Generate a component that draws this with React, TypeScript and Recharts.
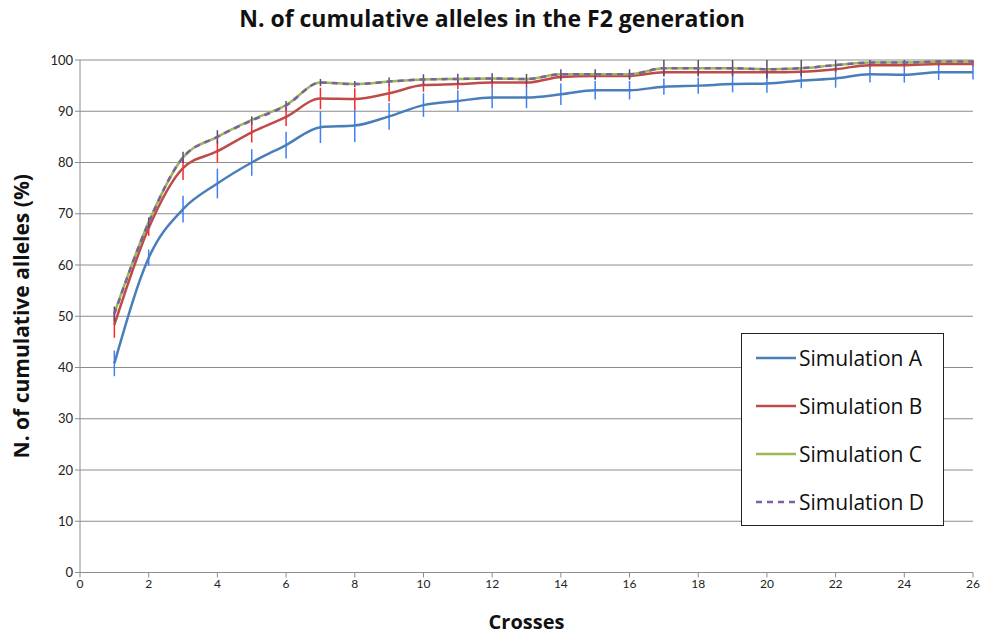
import { CartesianGrid, ErrorBar, Line, LineChart, XAxis, YAxis } from 'recharts';

const crosses = [1, 2, 3, 4, 5, 6, 7, 8, 9, 10, 11, 12, 13, 14, 15, 16, 17, 18, 19, 20, 21, 22, 23, 24, 25, 26];
const simA = [40.8, 61.4, 70.9, 75.9, 80.0, 83.4, 86.9, 87.2, 89.0, 91.2, 92.0, 92.7, 92.7, 93.3, 94.1, 94.1, 94.8, 95.0, 95.3, 95.4, 96.0, 96.4, 97.2, 97.1, 97.6, 97.6];
const simB = [48.3, 67.2, 78.9, 82.2, 85.9, 88.9, 92.5, 92.4, 93.5, 95.1, 95.3, 95.6, 95.6, 96.7, 96.9, 96.9, 97.6, 97.6, 97.6, 97.6, 97.7, 98.2, 99.0, 99.0, 99.2, 99.2];
const simC = [50.6, 68.4, 81.0, 85.0, 88.3, 91.2, 95.6, 95.3, 95.8, 96.2, 96.3, 96.4, 96.3, 97.2, 97.2, 97.2, 98.4, 98.4, 98.4, 98.2, 98.4, 99.0, 99.5, 99.5, 99.7, 99.7];
const simD = [50.4, 68.3, 81.0, 85.0, 88.2, 91.1, 95.6, 95.3, 95.8, 96.2, 96.3, 96.4, 96.3, 97.2, 97.2, 97.2, 98.4, 98.4, 98.4, 98.2, 98.4, 99.0, 99.5, 99.5, 99.7, 99.7];
const errA = [2.5, 1.6, 2.6, 2.9, 2.6, 2.6, 3.1, 3.2, 2.6, 2.3, 2.1, 2.1, 2.1, 2.1, 1.8, 1.8, 1.6, 1.6, 1.6, 1.8, 1.5, 1.8, 1.6, 1.5, 1.5, 1.4];
const errB = [2.5, 1.5, 2.3, 2.1, 2.0, 1.8, 2.1, 2.1, 1.6, 1.3, 1.0, 0.9, 0.9, 0.8, 0.7, 0.7, 0.6, 0.6, 0.6, 0.6, 0.6, 0.6, 0.5, 0.5, 0.4, 0.4];
const errD = [1.5, 1.0, 1.1, 1.3, 0.8, 0.9, 0.7, 0.6, 0.8, 1.0, 1.0, 1.0, 1.0, 1.0, 1.0, 1.0, 1.6, 1.6, 1.6, 1.8, 1.6, 1.0, 0.5, 0.5, 0.3, 0.3];
const xTicks = [0, 2, 4, 6, 8, 10, 12, 14, 16, 18, 20, 22, 24, 26];
const yTicks = [0, 10, 20, 30, 40, 50, 60, 70, 80, 90, 100];

const series = [
  { key: 'A', name: 'Simulation A', color: '#4a7ebb', dash: undefined },
  { key: 'B', name: 'Simulation B', color: '#be4b48', dash: undefined },
  { key: 'C', name: 'Simulation C', color: '#98b954', dash: undefined },
  { key: 'D', name: 'Simulation D', color: '#7d60a0', dash: '6 5' },
];

const data = crosses.map((x, i) => ({
  x,
  A: simA[i],
  B: simB[i],
  C: simC[i],
  D: simD[i],
  errA: errA[i],
  errB: errB[i],
  errD: errD[i],
}));

const FONT = 'Lato, "Open Sans", sans-serif';
const BOLD_FONT = '"Open Sans", sans-serif';

function LegendBox() {
  return (
    <div
      style={{
        position: 'absolute',
        left: 741,
        top: 333,
        border: '1px solid #222',
        background: '#fff',
        width: 203,
        height: 193,
        boxSizing: 'border-box',
        paddingTop: 0,
        zIndex: 2,
      }}
    >
      {series.map((s) => (
        <div key={s.key} style={{ display: 'flex', alignItems: 'center', height: 48 }}>
          <svg width={44} height={10} style={{ marginLeft: 12 }}>
            <line x1={2} y1={5} x2={42} y2={5} stroke={s.color} strokeWidth={2.5} strokeDasharray={s.dash} />
          </svg>
          <span style={{ fontFamily: BOLD_FONT, fontSize: 21, color: '#111', marginLeft: 1 }}>{s.name}</span>
        </div>
      ))}
    </div>
  );
}

export default function App() {
  return (
    <div style={{ position: 'absolute', left: 0, top: 0, width: 984, height: 637, background: '#fff' }}>
      <div
        style={{
          position: 'absolute',
          left: 0,
          top: 2,
          width: 984,
          textAlign: 'center',
          fontFamily: BOLD_FONT,
          fontWeight: 700,
          fontSize: 23,
          color: '#111',
          zIndex: 2,
        }}
      >
        N. of cumulative alleles in the F2 generation
      </div>
      <LegendBox />
      <LineChart width={984} height={637} data={data} margin={{ top: 60, right: 11, left: 0, bottom: 0 }}>
        <CartesianGrid horizontal vertical={false} stroke="#8c8c8c" strokeWidth={1} />
        <XAxis
          dataKey="x"
          type="number"
          domain={[0, 26]}
          ticks={xTicks}
          height={64.5}
          stroke="#8c8c8c"
          tickSize={5}
          tick={{ fill: '#222', fontSize: 12, fontFamily: FONT }}
          label={{ value: 'Crosses', position: 'insideBottom', offset: 8, fill: '#111', fontSize: 20, fontWeight: 700, fontFamily: BOLD_FONT }}
        />
        <YAxis
          type="number"
          domain={[0, 100]}
          ticks={yTicks}
          width={80}
          stroke="#8c8c8c"
          tickSize={5}
          tick={{ fill: '#222', fontSize: 13, fontFamily: FONT }}
          label={{ value: 'N. of cumulative alleles (%)', angle: -90, position: 'insideLeft', offset: 22, fill: '#111', fontSize: 21, fontWeight: 700, fontFamily: BOLD_FONT, style: { textAnchor: 'middle' } }}
        />
        <Line type="monotone" dataKey="A" name="Simulation A" stroke="#4a7ebb" strokeWidth={2.5} dot={false} isAnimationActive={false}>
          <ErrorBar dataKey="errA" direction="y" width={0} stroke="#3f7ff5" strokeWidth={1.5} />
        </Line>
        <Line type="monotone" dataKey="B" name="Simulation B" stroke="#be4b48" strokeWidth={2.5} dot={false} isAnimationActive={false}>
          <ErrorBar dataKey="errB" direction="y" width={0} stroke="#ff2626" strokeWidth={1.5} />
        </Line>
        <Line type="monotone" dataKey="C" name="Simulation C" stroke="#98b954" strokeWidth={2.5} dot={false} isAnimationActive={false} />
        <Line type="monotone" dataKey="D" name="Simulation D" stroke="#7d60a0" strokeWidth={2.5} strokeDasharray="6 5" dot={false} isAnimationActive={false}>
          <ErrorBar dataKey="errD" direction="y" width={0} stroke="#5c4a72" strokeWidth={1.5} />
        </Line>
      </LineChart>
    </div>
  );
}
